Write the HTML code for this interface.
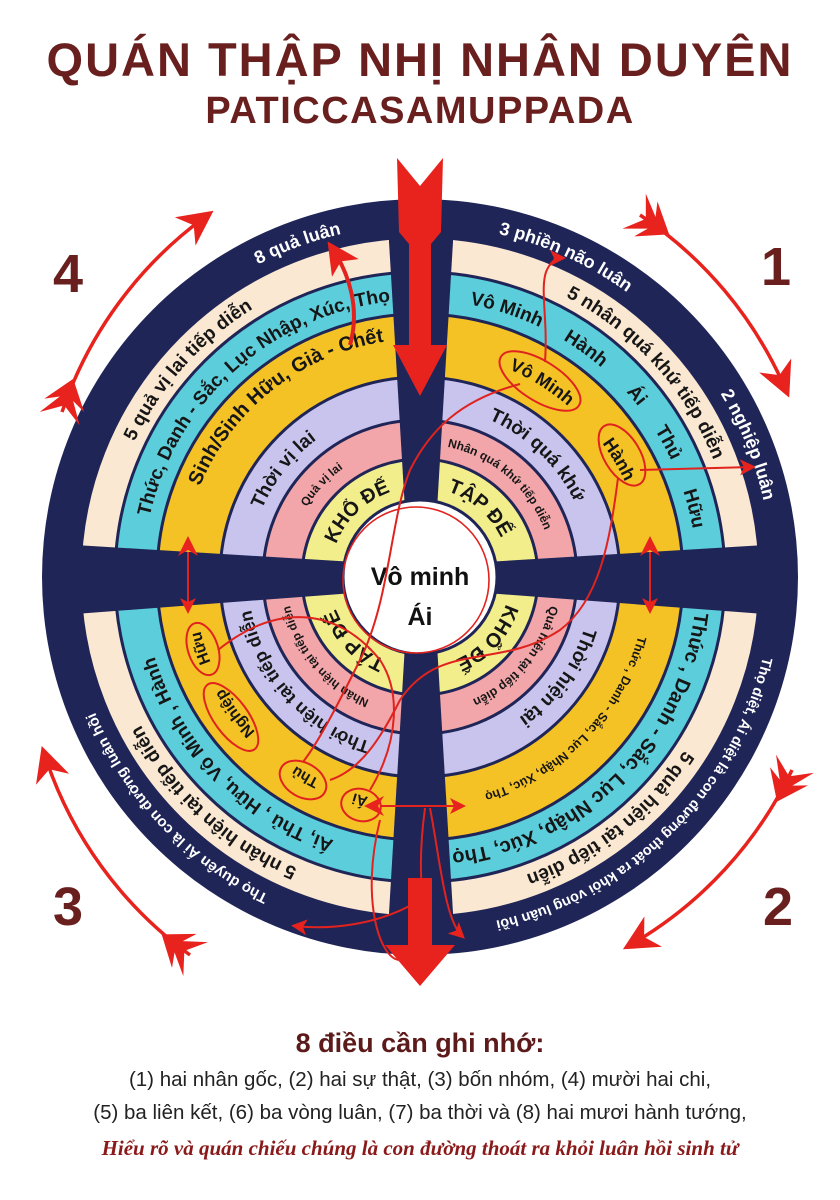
<!DOCTYPE html>
<html><head><meta charset="utf-8"><style>
html,body{margin:0;padding:0;background:#fff;}
body{width:840px;height:1200px;overflow:hidden;position:relative;font-family:"Liberation Sans",sans-serif;}
.t1{position:absolute;left:0;width:840px;text-align:center;top:32px;font-size:47px;font-weight:bold;color:#6a1f1f;letter-spacing:2px;}
.t2{position:absolute;left:0;width:840px;text-align:center;top:90px;font-size:38px;font-weight:bold;color:#6a1f1f;letter-spacing:1.5px;}
.b1{position:absolute;left:0;width:840px;text-align:center;top:1028px;font-size:27px;font-weight:bold;color:#5c1a1a;}
.b2{position:absolute;left:0;width:840px;text-align:center;font-size:20.5px;color:#222;}
.b3{position:absolute;left:0;width:840px;text-align:center;top:1136px;font-size:21px;font-weight:bold;font-style:italic;color:#8a1a1a;font-family:"Liberation Serif",serif;}
svg{position:absolute;left:0;top:0;}
</style></head><body>
<div class="t1">QUÁN THẬP NHỊ NHÂN DUYÊN</div>
<div class="t2">PATICCASAMUPPADA</div>
<svg width="840" height="1000" viewBox="0 0 840 1000" font-family="Liberation Sans, sans-serif" font-weight="bold">
<defs>
<path id="c352" d="M68,577 A352,352 0 1 1 772,577 A352,352 0 1 1 68,577"/>
<path id="c316" d="M104,577 A316,316 0 1 1 736,577 A316,316 0 1 1 104,577"/>
<path id="c277" d="M143,577 A277,277 0 1 1 697,577 A277,277 0 1 1 143,577"/>
<path id="c238" d="M182,577 A238,238 0 1 1 658,577 A238,238 0 1 1 182,577"/>
<path id="c226" d="M194,577 A226,226 0 1 1 646,577 A226,226 0 1 1 194,577"/>
<path id="c172" d="M248,577 A172,172 0 1 1 592,577 A172,172 0 1 1 248,577"/>
<path id="c133" d="M287,577 A133,133 0 1 1 553,577 A133,133 0 1 1 287,577"/>
<path id="c90" d="M330,577 A90,90 0 1 1 510,577 A90,90 0 1 1 330,577"/>
<marker id="ah" markerWidth="8" markerHeight="8" refX="6" refY="4" orient="auto" markerUnits="strokeWidth"><path d="M0,0 L8,4 L0,8 L2,4z" fill="#e8231e"/></marker>
<marker id="ahs" markerWidth="10" markerHeight="10" refX="2" refY="5" orient="auto-start-reverse" markerUnits="strokeWidth"><path d="M0,0 L10,5 L0,10 L3,5z" fill="#e8231e"/></marker>
<marker id="big" markerWidth="10" markerHeight="10" refX="7" refY="5" orient="auto" markerUnits="strokeWidth"><path d="M0,0 L10,5 L0,10 L3,5z" fill="#e8231e"/></marker>
<marker id="fl" markerWidth="12" markerHeight="12" refX="2" refY="6" orient="auto" markerUnits="strokeWidth"><path d="M0,0 L9,6 L0,12 L4,6z M4,0 L12,6 L4,12 L7,6z" fill="#e8231e"/></marker>
</defs>
<circle cx="420" cy="577" r="378" fill="#1f2557"/>
<g stroke="#1f2557" stroke-width="3">
<circle cx="420" cy="577" r="340" fill="#fbe8d2"/>
<circle cx="420" cy="577" r="305" fill="#5ccddb"/>
<circle cx="420" cy="577" r="263" fill="#f5c225"/>
<circle cx="420" cy="577" r="200" fill="#c8c4ee"/>
<circle cx="420" cy="577" r="157" fill="#f2a6aa"/>
<circle cx="420" cy="577" r="118" fill="#f3ee8c"/>
</g>
<g fill="#1f2557">
<polygon points="409,577 433,577 454,225 388,225"/>
<polygon points="409,577 433,577 454,930 388,930"/>
<polygon points="420,566 420,588 75,614 75,545"/>
<polygon points="420,566 420,588 765,614 765,545"/>
</g>
<circle cx="420" cy="577" r="77" fill="#fff" stroke="#1f2557" stroke-width="3"/>
<circle cx="416" cy="580" r="73" fill="none" stroke="#e0231e" stroke-width="1.6"/>
<text x="420" y="585" font-size="25" text-anchor="middle" fill="#111">Vô minh</text>
<text x="420" y="625" font-size="25" text-anchor="middle" fill="#111">Ái</text>

<g font-size="17" fill="#fff" text-anchor="middle">
<text font-size="18"><textPath href="#c352" startOffset="19.4%">8 quả luân</textPath></text>
<text font-size="18"><textPath href="#c352" startOffset="31.8%">3 phiền não luân</textPath></text>
<text font-size="18"><textPath href="#c352" startOffset="43.9%">2 nghiệp luân</textPath></text>
<text font-size="14.5"><textPath href="#c352" startOffset="62.6%">Thọ diệt, Ái diệt là con đường thoát ra khỏi vòng luân hồi</textPath></text>
<text font-size="15"><textPath href="#c352" startOffset="87.9%">Thọ duyên Ái là con đường luân hồi</textPath></text>
</g>
<g font-size="19" fill="#161616" text-anchor="middle">
<text><textPath href="#c316" startOffset="11.6%">5 quả vị lai tiếp diễn</textPath></text>
<text><textPath href="#c316" startOffset="38.3%">5 nhân quá khứ tiếp diễn</textPath></text>
<text><textPath href="#c316" startOffset="64.4%">5 quả hiện tại tiếp diễn</textPath></text>
<text><textPath href="#c316" startOffset="86.8%">5 nhân hiện tại tiếp diễn</textPath></text>

<text><textPath href="#c277" startOffset="13.4%">Thức, Danh - Sắc, Lục Nhập, Xúc, Thọ</textPath></text>
<text><textPath href="#c277" startOffset="30%">Vô Minh</textPath></text>
<text><textPath href="#c277" startOffset="35%">Hành</textPath></text>
<text><textPath href="#c277" startOffset="38.9%">Ái</textPath></text>
<text><textPath href="#c277" startOffset="42.1%">Thủ</textPath></text>
<text><textPath href="#c277" startOffset="46.1%">Hữu</textPath></text>
<text font-size="20"><textPath href="#c277" startOffset="62.6%">Thức , Danh - Sắc, Lục Nhập, Xúc, Thọ</textPath></text>
<text><textPath href="#c277" startOffset="87.7%">Ái, Thủ , Hữu, Vô Minh , Hành</textPath></text>

<text font-size="20"><textPath href="#c238" startOffset="14.4%">Sinh/Sinh Hữu,     Già - Chết</textPath></text>
<text font-size="12.5"><textPath href="#c226" startOffset="62.3%">Thức , Danh - Sắc, Lục Nhập, Xúc, Thọ</textPath></text>
<text font-size="18"><textPath href="#c226" startOffset="33.9%">Vô Minh</textPath></text>
<text font-size="18"><textPath href="#c226" startOffset="41.5%">Hành</textPath></text>
<text font-size="15"><textPath href="#c226" startOffset="79.2%">Ái</textPath></text>
<text font-size="15"><textPath href="#c226" startOffset="83.3%">Thủ</textPath></text>
<text font-size="16"><textPath href="#c226" startOffset="89.9%">Nghiệp</textPath></text>
<text font-size="16"><textPath href="#c226" startOffset="95%">Hữu</textPath></text>

<text><textPath href="#c172" startOffset="10.6%">Thời vị lai</textPath></text>
<text><textPath href="#c172" startOffset="37.2%">Thời quá khứ</textPath></text>
<text><textPath href="#c172" startOffset="60%">Thời hiện tại</textPath></text>
<text font-size="18"><textPath href="#c172" startOffset="88.3%">Thời hiện tại tiếp diễn</textPath></text>

<text font-size="12"><textPath href="#c133" startOffset="12%">Quả vị lai</textPath></text>
<text font-size="12"><textPath href="#c133" startOffset="36.3%">Nhân quá khứ tiếp diễn</textPath></text>
<text font-size="12.5"><textPath href="#c133" startOffset="61%">Quả hiện tại tiếp diễn</textPath></text>
<text font-size="12"><textPath href="#c133" startOffset="88.9%">Nhân hiện tại tiếp diễn</textPath></text>

<text font-size="20"><textPath href="#c90" startOffset="12.8%">KHỔ ĐẾ</textPath></text>
<text font-size="20"><textPath href="#c90" startOffset="36.4%">TẬP ĐẾ</textPath></text>
<text font-size="20"><textPath href="#c90" startOffset="61.7%">KHỔ ĐẾ</textPath></text>
<text font-size="20"><textPath href="#c90" startOffset="87.8%">TẬP ĐẾ</textPath></text>
</g>

<g fill="none" stroke="#e0231e" stroke-width="2">
<ellipse cx="540" cy="381" rx="46" ry="20" transform="rotate(32 540 381)"/>
<ellipse cx="622" cy="455" rx="34" ry="18" transform="rotate(59 622 455)"/>
<ellipse cx="361" cy="805" rx="20" ry="16" transform="rotate(15 361 805)"/>
<ellipse cx="303" cy="780" rx="25" ry="17" transform="rotate(30 303 780)"/>
<ellipse cx="231" cy="717" rx="40" ry="17" transform="rotate(54 231 717)"/>
<ellipse cx="203" cy="649" rx="27" ry="15" transform="rotate(72 203 649)"/>
</g>
<g fill="none" stroke="#e0231e" stroke-width="2">
<path d="M545,362 C548,320 540,290 546,272 C550,262 556,258 562,258" marker-end="url(#ah)"/>
<path d="M640,470 L752,467" marker-end="url(#ah)"/>
<path d="M520,384 C460,400 430,430 410,470 C390,520 390,600 360,660 C340,700 320,740 303,762"/>
<path d="M618,478 C610,540 600,600 560,630 C500,670 440,640 400,700 C380,740 360,770 330,780"/>
<path d="M218,650 C280,600 340,610 380,660 C400,690 400,740 370,790"/>
<path d="M188,552 L188,610" marker-start="url(#ahs)" marker-end="url(#ah)"/>
<path d="M650,552 L650,610" marker-start="url(#ahs)" marker-end="url(#ah)"/>
<path d="M380,806 L462,806" marker-start="url(#ahs)" marker-end="url(#ah)"/>
<path d="M425,808 C418,860 420,900 430,930" />
<path d="M430,808 C440,860 445,920 462,936" marker-end="url(#ah)"/>
<path d="M420,900 C380,925 330,930 295,926" marker-end="url(#ah)"/>
<path d="M380,820 C360,900 380,960 400,960"/>
</g>
<path d="M350,345 C360,310 350,275 332,248" fill="none" stroke="#e0231e" stroke-width="4" marker-end="url(#ah)"/>
<polygon fill="#e8231e" points="397,158 420,186 443,158 441,232 431,244 431,345 447,345 420,396 393,345 409,345 409,244 399,232"/>
<polygon fill="#e8231e" points="408,878 432,878 432,945 455,945 420,986 385,945 408,945"/>
<g fill="none" stroke="#e8231e" stroke-width="3.5">
<path d="M62,412 A400,400 0 0 1 205,217" marker-start="url(#fl)" marker-end="url(#big)"/>
<path d="M640,215 A400,400 0 0 1 785,388" marker-start="url(#fl)" marker-end="url(#big)"/>
<path d="M792,770 A400,400 0 0 1 632,944" marker-start="url(#fl)" marker-end="url(#big)"/>
<path d="M190,955 A400,400 0 0 1 45,756" marker-start="url(#fl)" marker-end="url(#big)"/>
</g>
<g font-size="54" fill="#6a1f1f" text-anchor="middle">
<text x="68" y="292">4</text>
<text x="776" y="285">1</text>
<text x="68" y="925">3</text>
<text x="778" y="925">2</text>
</g>
</svg>
<div class="b1">8 điều cần ghi nhớ:</div>
<div class="b2" style="top:1068px">(1) hai nhân gốc, (2) hai sự thật, (3) bốn nhóm, (4) mười hai chi,</div>
<div class="b2" style="top:1101px">(5) ba liên kết, (6) ba vòng luân, (7) ba thời và (8) hai mươi hành tướng,</div>
<div class="b3">Hiểu rõ và quán chiếu chúng là con đường thoát ra khỏi luân hồi sinh tử</div>
</body></html>
